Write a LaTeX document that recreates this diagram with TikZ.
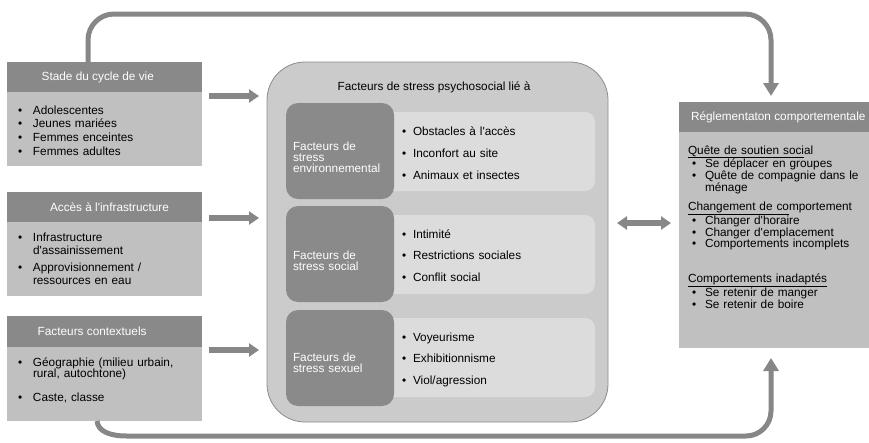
\documentclass[tikz,border=0pt]{standalone}
\usepackage{fontspec}
\setmainfont{Liberation Sans}
\usetikzlibrary{arrows.meta,calc}
\definecolor{hdr}{RGB}{137,137,137}
\definecolor{bod}{RGB}{192,192,192}
\definecolor{big}{RGB}{203,203,203}
\definecolor{bigline}{RGB}{140,140,140}
\definecolor{dark}{RGB}{138,138,138}
\definecolor{panel}{RGB}{220,220,220}
\definecolor{arr}{RGB}{135,135,135}
\newcommand\bul[1][15pt]{\makebox[#1][l]{\textbullet}}
\newcommand\apo{\textquotesingle}
\begin{document}
\begin{tikzpicture}[x=1pt,y=-1pt,
  every node/.style={inner sep=0pt, outer sep=0pt},
  txt/.style={font=\fontsize{11.8}{13.8}\selectfont},
  lead/.style={font=\fontsize{11.8}{#1}\selectfont},
  hdrbox/.style={fill=hdr, minimum height=30pt, anchor=north west},
  hdrtext/.style={txt, text=white, anchor=west},
  bodybox/.style={fill=bod, anchor=north west},
  listtext/.style={anchor=base west, align=left, text width=#1, txt},
  listtext/.default=180pt,
  panelbox/.style={fill=panel, rounded corners=10pt, anchor=north west, minimum width=215pt, minimum height=79pt},
  darkbox/.style={fill=dark, rounded corners=12pt, anchor=north west, minimum width=108pt, minimum height=96pt},
  blockarrow/.style={draw=arr, line width=6pt, -{Triangle[width=13pt,length=10pt]}},
  dblarrow/.style={draw=arr, line width=6pt, {Triangle[width=13pt,length=10pt]}-{Triangle[width=13pt,length=10pt]}},
  loopline/.style={draw=arr, line width=5pt, -{Triangle[width=15pt,length=13pt]}}
]
\useasboundingbox (0,0) rectangle (869,442);

% ---- left boxes
\node[hdrbox, minimum width=195pt] (hA) at (7,62) {};
\node[hdrtext] (hAt) at (41.7,77) {Stade du cycle de vie};
\node[bodybox, minimum width=195pt, minimum height=74pt] (bA) at (7,92) {};
\node[listtext, lead=13.8pt] (tA) at (18,114) {\bul Adolescentes\\\bul Jeunes mariées\\\bul Femmes enceintes\\\bul Femmes adultes};

\node[hdrbox, minimum width=195pt] (hB) at (7,192) {};
\node[hdrtext] (hBt) at (50,207) {Accès à l\apo infrastructure};
\node[bodybox, minimum width=195pt, minimum height=74pt] (bB) at (7,222) {};
\node[listtext, lead=13.3pt] (tB) at (18,241) {\bul Infrastructure\\\hspace*{15pt}d\apo assainissement\\[3.4pt]\bul Approvisionnement /\\\hspace*{15pt}ressources en eau};

\node[hdrbox, minimum width=195pt, minimum height=31pt] (hC) at (7,316) {};
\node[hdrtext] (hCt) at (37.7,331.5) {Facteurs contextuels};
\node[bodybox, minimum width=195pt, minimum height=74pt] (bC) at (7,347) {};
\node[listtext, lead=11.7pt] (tC) at (18,366) {\bul Géographie (milieu urbain,\\\hspace*{15pt}rural, autochtone)\\[12.3pt]\bul Caste, classe};

% ---- central box
\node[draw=bigline, line width=0.8pt, fill=big, rounded corners=38pt, minimum width=341pt, minimum height=360pt, anchor=north west] (big) at (267,62) {};
\node[txt] (title) at (434,87) {Facteurs de stress psychosocial lié à};

\node[panelbox] (p1) at (380,112) {};
\node[panelbox] (p2) at (380,215) {};
\node[panelbox] (p3) at (380,318) {};
\node[darkbox] (d1) at (286,103) {};
\node[darkbox] (d2) at (286,206) {};
\node[darkbox] (d3) at (286,310) {};

\node[listtext=100pt, lead=11pt, text=white] (l1) at (293,150) {Facteurs de\\stress\\environnemental};
\node[listtext=100pt, lead=11pt, text=white] (l2) at (293,259) {Facteurs de\\stress social};
\node[listtext=100pt, lead=11pt, text=white] (l3) at (293,361) {Facteurs de\\stress sexuel};

\node[listtext, lead=22pt] (i1) at (402,135) {\bul[11pt]Obstacles à l\apo accès\\\bul[11pt]Inconfort au site\\\bul[11pt]Animaux et insectes};
\node[listtext, lead=21.5pt] (i2) at (402,238) {\bul[11pt]Intimité\\\bul[11pt]Restrictions sociales\\\bul[11pt]Conflit social};
\node[listtext, lead=21.5pt] (i3) at (402,341) {\bul[11pt]Voyeurisme\\\bul[11pt]Exhibitionnisme\\\bul[11pt]Viol/agression};

% ---- right box
\node[hdrbox, minimum width=198pt] (hR) at (679,102) {};
\node[hdrtext] (hRt) at (691,117) {Réglementaton comportementale};
\node[bodybox, minimum width=198pt, minimum height=216pt] (bR) at (679,132) {};
\node[listtext=178pt, lead=11.8pt] (tR) at (688,154) {\underline{Quête de soutien soci}al\\
\hspace*{4pt}\bul[13pt]Se déplacer en groupes\\
\hspace*{4pt}\bul[13pt]Quête de compagnie dans le\\
\hspace*{17pt}ménage\\[7pt]
\underline{Changement de co}mportement\\
\hspace*{4pt}\bul[13pt]Changer d\apo horaire\\
\hspace*{4pt}\bul[13pt]Changer d\apo emplacement\\
\hspace*{4pt}\bul[13pt]Comportements incomplets\\[22.6pt]
\underline{Comportements inadaptés}\\
\hspace*{4pt}\bul[13pt]Se retenir de manger\\
\hspace*{4pt}\bul[13pt]Se retenir de boire};

% ---- arrows
\draw[blockarrow] ($(hA.south east)+(7,4)$) -- ($(hA.south east)+(57,4)$);
\draw[blockarrow] ($(hB.south east)+(7,-4)$) -- ($(hB.south east)+(57,-4)$);
\draw[blockarrow] ($(hC.south east)+(7,3)$) -- ($(hC.south east)+(57,3)$);
\draw[dblarrow] ($(big.east)+(9,-19)$) -- ($(bR.west)+(-8,-17)$);

\draw[loopline, rounded corners=26pt] ($(hA.north west)+(81,0)$) |- ($(hR.north west)+(92,-88)$) -- ($(hR.north west)+(92,-6)$);
\draw[loopline] ($(bC.south west)+(90,0)$) .. controls +(1,10) and +(-18,0) .. ($(bC.south west)+(120,15)$)
  [rounded corners=25pt] -- ($(bR.south west)+(92,88)$) -- ($(bR.south west)+(92,10)$);
\end{tikzpicture}
\end{document}
